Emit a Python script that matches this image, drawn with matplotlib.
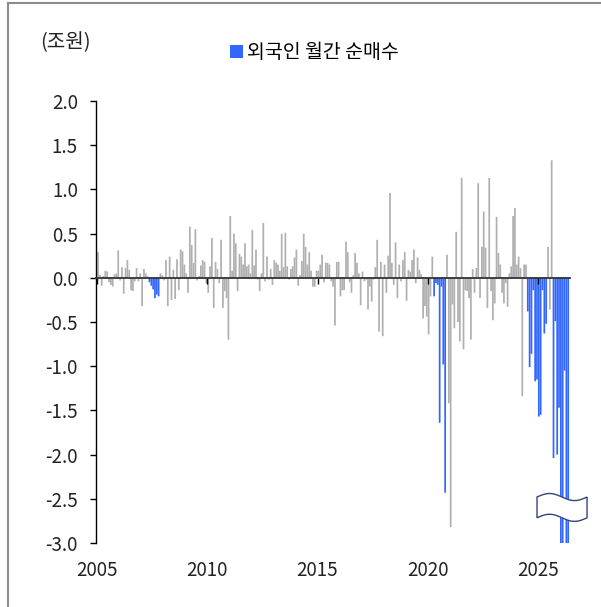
import matplotlib
matplotlib.use("Agg")
import matplotlib.pyplot as plt
import numpy as np
import pandas as pd
from matplotlib.lines import Line2D
from matplotlib.patches import Patch, Polygon

plt.rcParams["font.family"] = ["Noto Sans CJK KR", "DejaVu Sans"]
plt.rcParams["axes.unicode_minus"] = False

# 외국인 월간 순매수 (조원), monthly from Jan 2005
net_2005 = [0.29, 0.03, -0.09, 0.02, 0.08, 0.07, -0.05, -0.08, -0.10, 0.04, 0.05, 0.31]
net_2006 = [-0.03, 0.12, -0.18, 0.11, 0.20, 0.09, -0.14, -0.15, -0.04, 0.11, -0.04, 0.05]
net_2007 = [-0.32, 0.10, 0.05, 0.02, -0.05, -0.09, -0.13, -0.23, -0.19, -0.21, 0.05, 0.03]
net_2008 = [-0.03, 0.20, -0.32, 0.24, -0.25, 0.09, -0.24, 0.21, -0.14, 0.32, 0.30, 0.15]
net_2009 = [0.05, -0.17, 0.58, 0.37, 0.17, 0.55, -0.03, 0.02, 0.14, 0.20, 0.18, -0.06]
net_2010 = [-0.17, 0.13, 0.45, -0.34, 0.18, 0.10, -0.06, 0.43, -0.34, -0.15, -0.23, -0.70]
net_2011 = [0.70, 0.08, 0.50, 0.39, -0.15, 0.27, 0.24, 0.15, 0.39, 0.13, 0.15, 0.05]
net_2012 = [0.54, 0.14, 0.32, -0.02, -0.15, 0.05, 0.62, -0.04, 0.24, -0.02, 0.10, -0.08]
net_2013 = [0.20, 0.17, 0.15, 0.08, 0.50, 0.12, 0.51, 0.13, -0.02, 0.10, 0.13, 0.23]
net_2014 = [0.32, -0.09, 0.03, 0.19, 0.50, 0.35, 0.15, 0.29, 0.08, -0.10, -0.10, 0.08]
net_2015 = [0.08, 0.15, 0.26, -0.05, 0.17, 0.17, 0.15, -0.04, -0.10, -0.54, 0.18, 0.18]
net_2016 = [-0.21, -0.14, -0.14, 0.41, 0.29, -0.05, -0.17, 0.03, 0.28, 0.17, 0.05, -0.31]
net_2017 = [0.07, -0.04, -0.02, -0.36, -0.10, -0.27, -0.02, 0.12, 0.43, -0.61, 0.18, -0.66]
net_2018 = [0.15, -0.17, 0.25, 0.96, 0.17, -0.08, 0.40, -0.23, 0.15, -0.04, 0.20, 0.29]
net_2019 = [-0.26, 0.09, 0.07, 0.20, 0.32, -0.06, 0.23, 0.09, 0.04, -0.46, -0.32, -0.44]
net_2020 = [-0.64, -0.21, 0.24, -0.21, -0.06, -0.08, -1.64, -0.10, -0.98, -2.43, 0.26, -1.42]
net_2021 = [-2.82, -0.30, -0.57, 0.52, -0.50, -0.72, 1.13, -0.81, -0.14, -0.15, -0.23, -0.70]
net_2022 = [0.10, -0.17, 0.11, 1.07, -0.23, 0.35, 0.75, 0.34, -0.34, 1.13, -0.15, -0.48]
net_2023 = [-0.29, 0.69, 0.28, 0.15, -0.17, -0.29, -0.06, -0.33, 0.05, 0.13, 0.70, 0.79]
net_2024 = [0.15, 0.24, 0.11, -1.34, 0.15, 0.15, -0.38, -1.01, -0.86, -0.14, -1.17, -1.15]
net_2025 = [-1.57, -1.55, -0.14, -0.63, -0.52, 0.35, -0.36, 1.33, -2.04, -0.49, -2.00, -1.47]
net_2026 = [-3.40, -3.30, -1.05, -3.50, -3.40]

# selling streaks shown in blue
highlight_periods = [
    ("2007-05", "2007-10"),
    ("2020-04", "2020-10"),
    ("2024-07", "2025-05"),
    ("2025-09", "2026-05"),
]

year_ticks = [2005, 2010, 2015, 2020, 2025]
y_ticks = [2.0, 1.5, 1.0, 0.5, 0.0, -0.5, -1.0, -1.5, -2.0, -2.5, -3.0]

GREY = "#B0B0B0"
BLUE = "#3366FF"

values = np.array(
    net_2005 + net_2006 + net_2007 + net_2008 + net_2009 + net_2010 + net_2011
    + net_2012 + net_2013 + net_2014 + net_2015 + net_2016 + net_2017 + net_2018
    + net_2019 + net_2020 + net_2021 + net_2022 + net_2023 + net_2024 + net_2025
    + net_2026
)
months = pd.period_range("2005-01", periods=len(values), freq="M")
x = np.asarray(months.year + (months.month - 0.5) / 12, dtype=float)

is_blue = np.zeros(len(months), dtype=bool)
for start, end in highlight_periods:
    is_blue |= (months >= pd.Period(start, "M")) & (months <= pd.Period(end, "M"))

W, H = 601, 607
fig = plt.figure(figsize=(W / 100, H / 100), dpi=100)
ax = fig.add_axes([96 / W, 64 / H, 474 / W, 442 / H])

bars = ax.bar(x, values, width=0.95 / 12, color=np.where(is_blue, BLUE, GREY),
              linewidth=0, zorder=2)
for b in bars:
    b.set_snap(False)

px_per_year = 22.04
x0 = 2005 - 1.1 / px_per_year
ax.set_xlim(x0, x0 + 474 / px_per_year)
ax.set_ylim(-3.0, 2.0)

for side in ("top", "right", "bottom"):
    ax.spines[side].set_visible(False)
ax.spines["left"].set_color("black")
ax.spines["left"].set_linewidth(1.0)

ax.set_yticks(y_ticks)
ax.set_yticklabels([f"{v:.1f}" for v in y_ticks])
ax.tick_params(axis="y", direction="out", length=4, width=1, pad=9,
               labelsize=13.5, colors="black", labelcolor="#222222")
ax.set_xticks(year_ticks)
ax.set_xticklabels([str(y) for y in year_ticks])
ax.tick_params(axis="x", length=0, pad=12, labelsize=13.5, labelcolor="#222222")

# zero line with year tick marks
zero_axis = ax.secondary_xaxis(0, transform=ax.transData)
zero_axis.set_alignment("bottom")
zero_axis.set_xticks(year_ticks)
zero_axis.set_xticklabels([])
zero_axis.tick_params(direction="out", length=4, width=1, color="black")
zero_axis.spines["bottom"].set_color("#333333")
zero_axis.spines["bottom"].set_linewidth(1.3)
zero_axis.set_zorder(3)

# axis break symbol over the clipped bars
t = np.linspace(0, 1, 60)
bx = 2024.96 + 2.27 * t
wave = 0.04 * np.sin(2 * np.pi * t)
top = -2.48 + wave
bot = -2.715 + wave
pts = np.column_stack([np.concatenate([bx, bx[::-1]]),
                       np.concatenate([top, bot[::-1]])])
ax.add_patch(Polygon(pts, closed=True, facecolor="white", edgecolor="#34457A",
                     linewidth=1.0, clip_on=False, zorder=5))

fig.text(40 / W, 1 - 43 / H, "(조원)", ha="left", va="center", fontsize=14.5,
         color="#222222")
fig.legend([Patch(facecolor=BLUE, edgecolor="none")], ["외국인 월간 순매수"],
           loc="center left", bbox_to_anchor=(230 / W, 1 - 53 / H),
           frameon=False, fontsize=14, handlelength=0.65, handleheight=0.65,
           handletextpad=0.2, borderpad=0, borderaxespad=0)

# outer frame (top and left edges)
frame_kw = dict(color="#8C8C8C", linewidth=1.5, transform=fig.transFigure)
fig.add_artist(Line2D([8 / W, 8 / W], [0, 1 - 3 / H], **frame_kw))
fig.add_artist(Line2D([8 / W, 1], [1 - 3 / H, 1 - 3 / H], **frame_kw))

fig.savefig("out.png", dpi=100)
